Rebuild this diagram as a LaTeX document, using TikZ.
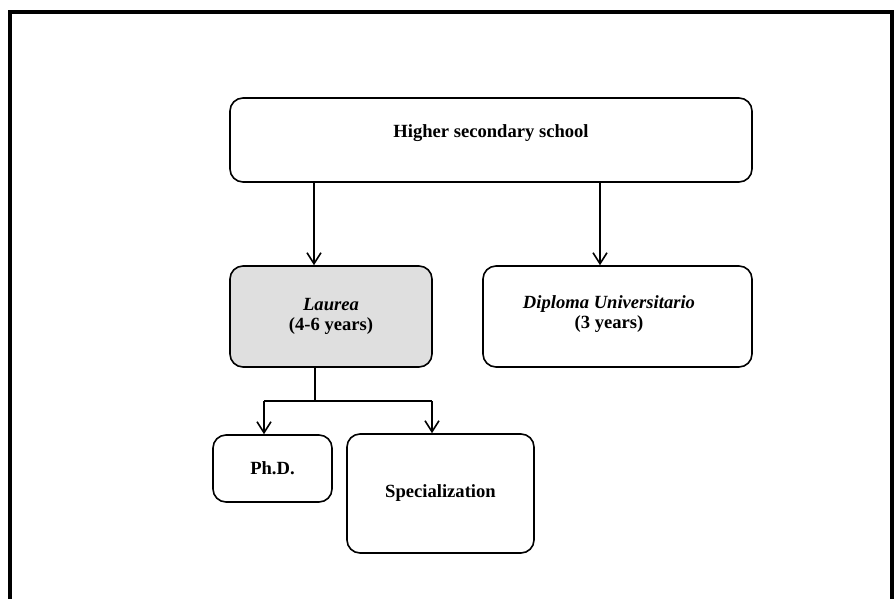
\documentclass[tikz,border=0pt]{standalone}
\usepackage{fontspec}
\setmainfont{Liberation Serif}
\usetikzlibrary{arrows.meta}
\tikzset{
  box/.style={draw=black, line width=1.6pt, rounded corners=13pt, inner sep=0pt,
    align=center, font=\fontsize{18.6}{20.5}\selectfont\bfseries},
  txt/.style={inner sep=0pt, align=center, font=\fontsize{18.6}{20.5}\selectfont\bfseries},
  arr/.style={line width=1.6pt, -{Straight Barb[length=11pt,width=14pt,line width=1.6pt]}},
  ln/.style={line width=1.6pt}
}
\begin{document}
\begin{tikzpicture}[x=1pt,y=-1pt]
\useasboundingbox (0,0) rectangle (894,598);
% frame
\draw[line width=4pt] (10,600) -- (10,12) -- (892,12) -- (892,600);
% boxes
\node[box, minimum width=522pt, minimum height=84pt] (top) at (491,140) {};
\node[txt] (toptext) at (491,133) {Higher secondary school};
\node[box, fill=gray!25, minimum width=202pt, minimum height=101pt] (laurea) at (331,316.5)
  {\textit{Laurea}\\(4-6 years)};
\node[box, minimum width=269pt, minimum height=101pt] (diploma) at (617.5,316.5) {};
\node[txt] (diptext) at (609,314) {\textit{Diploma Universitario}\\(3 years)};
\node[box, minimum width=119pt, minimum height=67pt] (phd) at (272.5,468.5) {Ph.D.};
\node[box, minimum width=187pt, minimum height=119pt] (spec) at (440.5,493.5) {Specialization};
% connectors
\coordinate (a1) at (314,0);
\coordinate (a2) at (600,0);
\draw[arr] (a1 |- top.south) -- (a1 |- laurea.north);
\draw[arr] (a2 |- top.south) -- (a2 |- diploma.north);
\coordinate (b) at (315,401);
\coordinate (bl) at (264,401);
\coordinate (br) at (432,401);
\draw[ln] (b |- laurea.south) -- (b);
\draw[ln] (bl) -- (br);
\draw[arr] (bl) -- (bl |- phd.north);
\draw[arr] (br) -- (br |- spec.north);
\end{tikzpicture}
\end{document}
